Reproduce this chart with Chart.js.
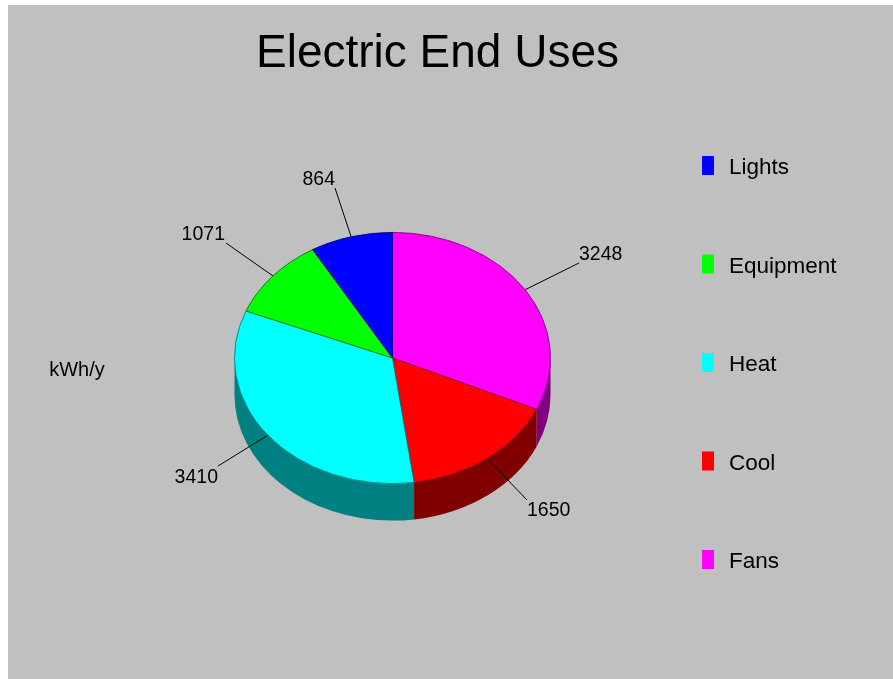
<!DOCTYPE html>
<html>
<head>
<meta charset="utf-8">
<title>Electric End Uses</title>
<script src="https://cdn.jsdelivr.net/npm/chart.js@4/dist/chart.umd.min.js"></script>
<style>
  html, body { margin: 0; padding: 0; background: #fff; overflow: hidden; }
  canvas { display: block; }
</style>
</head>
<body>
<canvas id="endUses" width="893" height="679"></canvas>
<script>
// slices run clockwise from 12 o'clock, the legend lists them the other way round
const categories = ['Fans', 'Cool', 'Heat', 'Equipment', 'Lights'];
const kwhValues = [3248, 1650, 3410, 1071, 864];
const topColors = ['#ff00ff', '#ff0000', '#00ffff', '#00ff00', '#0000ff'];
const wallColors = ['#800080', '#800000', '#008080', '#008000', '#000080'];
const legendOrder = ['Lights', 'Equipment', 'Heat', 'Cool', 'Fans'];
const titleText = 'Electric End Uses';
const unitText = 'kWh/y';

// where each leader line stops, and where its label sits
const leaderEnds = [[579, 263], [527, 500], [218, 466], [226, 243], [335, 188]];
const labelSpots = [[579, 255, 'left'], [527, 511, 'left'], [218, 478, 'right'], [225, 235, 'right'], [335, 180, 'right']];

const squash = 0.795;   // tilt of the pie, height over width
const depth = 37;       // thickness of the side wall
const centerY = 358;
const fontName = '"Liberation Sans", Arial, sans-serif';

const pie3d = {
  id: 'pie3d',
  beforeDraw(chart) {
    const ctx = chart.ctx;
    ctx.save();
    ctx.fillStyle = '#c0c0c0';
    ctx.fillRect(8, 5, chart.width - 8, chart.height - 5);
    ctx.restore();
  },
  beforeDatasetsDraw(chart) {
    const ctx = chart.ctx;
    const arcs = chart.getDatasetMeta(0).data;

    // side wall: only the front half of the rim can be seen
    arcs.forEach(function(arc, i) {
      const from = Math.max(arc.startAngle, 0);
      const to = Math.min(arc.endAngle, Math.PI);
      if (to <= from) return;
      const rx = arc.outerRadius;
      const ry = rx * squash;
      ctx.save();
      ctx.beginPath();
      ctx.ellipse(arc.x, centerY, rx, ry, 0, from, to);
      ctx.ellipse(arc.x, centerY + depth, rx, ry, 0, to, from, true);
      ctx.closePath();
      ctx.fillStyle = wallColors[i];
      ctx.fill();
      ctx.restore();
    });

    // flatten the top face around the pie centre
    ctx.save();
    ctx.translate(0, centerY);
    ctx.scale(1, squash);
    ctx.translate(0, -arcs[0].y);
  },
  afterDatasetsDraw(chart) {
    const ctx = chart.ctx;
    ctx.restore();
    const arcs = chart.getDatasetMeta(0).data;

    ctx.save();
    ctx.strokeStyle = '#000';
    ctx.lineWidth = 1;
    ctx.fillStyle = '#000';
    ctx.textBaseline = 'middle';
    ctx.font = '19.5px ' + fontName;
    arcs.forEach(function(arc, i) {
      const mid = (arc.startAngle + arc.endAngle) / 2;
      ctx.beginPath();
      ctx.moveTo(arc.x + arc.outerRadius * Math.cos(mid), centerY + arc.outerRadius * squash * Math.sin(mid));
      ctx.lineTo(leaderEnds[i][0], leaderEnds[i][1]);
      ctx.stroke();
      ctx.textAlign = labelSpots[i][2];
      ctx.fillText(String(kwhValues[i]), labelSpots[i][0], labelSpots[i][1]);
    });

    // title and unit caption
    ctx.textAlign = 'center';
    ctx.font = '46px ' + fontName;
    ctx.fillText(titleText, 437.5, 54);
    ctx.font = '20px ' + fontName;
    ctx.fillText(unitText, 77, 370);

    // legend
    legendOrder.forEach(function(name, n) {
      const idx = categories.indexOf(name);
      const y = 156 + n * 98.5;
      ctx.fillStyle = topColors[idx];
      ctx.fillRect(702, y, 12, 19);
      ctx.fillStyle = '#000';
      ctx.textAlign = 'left';
      ctx.font = '22.5px ' + fontName;
      ctx.fillText(name, 729, y + 12);
    });
    ctx.restore();
  }
};

new Chart(document.getElementById('endUses'), {
  type: 'pie',
  data: {
    labels: categories,
    datasets: [{
      data: kwhValues,
      backgroundColor: topColors,
      borderColor: wallColors,
      borderWidth: 1,
      clip: false
    }]
  },
  options: {
    responsive: false,
    animation: false,
    layout: { padding: { left: 234, right: 342, top: 199, bottom: 161 } },
    plugins: {
      legend: { display: false },
      title: { display: false },
      tooltip: { enabled: false }
    }
  },
  plugins: [pie3d]
});
</script>
</body>
</html>
